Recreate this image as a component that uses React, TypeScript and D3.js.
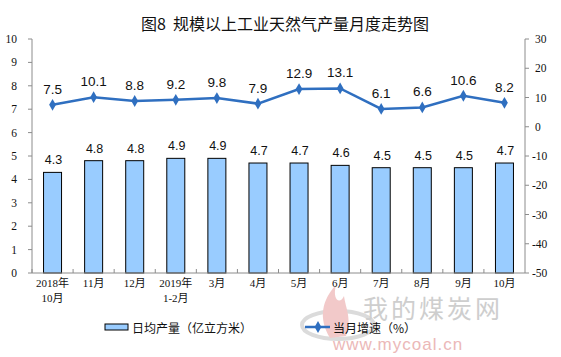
import React from "react";
import * as d3 from "d3";

const categories = ["2018年\n10月", "11月", "12月", "2019年\n1-2月", "3月", "4月", "5月", "6月", "7月", "8月", "9月", "10月"];
const dailyOutput = [4.3, 4.8, 4.8, 4.9, 4.9, 4.7, 4.7, 4.6, 4.5, 4.5, 4.5, 4.7];
const growth = [7.5, 10.1, 8.8, 9.2, 9.8, 7.9, 12.9, 13.1, 6.1, 6.6, 10.6, 8.2];
const leftTicks = [0, 1, 2, 3, 4, 5, 6, 7, 8, 9, 10];
const rightTicks = [-50, -40, -30, -20, -10, 0, 10, 20, 30];
const title = "图8\u00a0\u00a0规模以上工业天然气产量月度走势图";
const legendBar = "日均产量（亿立方米）";
const legendLine = "当月增速（%）";

const W = 561, H = 357;
const L = 32, R = 525, T = 39, B = 273;

export default function App() {
  const band = d3.scaleBand<string>().domain(categories.map((_, i) => String(i))).range([L, R]);
  const yL = d3.scaleLinear().domain([0, 10]).range([B, T]);
  const yR = d3.scaleLinear().domain([-50, 30]).range([B, T]);
  const cx = (i: number) => (band(String(i)) as number) + band.bandwidth() / 2;
  const line = d3.line<number>().x((_, i) => cx(i)).y((d) => yR(d));
  const bw = 18;
  const axisColor = "#8c8c8c";
  const serif = "'Liberation Serif', 'Times New Roman', serif";
  const sans = "'Liberation Sans', Arial, sans-serif";
  const cjk = "'Liberation Serif', 'Noto Sans CJK SC', serif";
  const diamond = d3.symbol().type(d3.symbolDiamond).size(40)();

  return (
    <svg width={W} height={H} style={{ position: "absolute", left: 0, top: 0, background: "#fff" }}>
      <text x={285} y={30} textAnchor="middle" fontSize={16} fontFamily="'Noto Sans CJK SC', sans-serif" fill="#111">{title}</text>

      {/* watermark */}
      <g opacity={0.9}>
        <ellipse cx={338} cy={325} rx={36} ry={14} fill="none" stroke="#d8d8d8" strokeWidth={4} />
        <path d="M330,338 C318,318 322,300 336,285 C332,300 340,305 344,296 C346,310 352,318 346,336 Z" fill="#f1c4c4" />
        <text x={363} y={318} fontSize={25} fill="#c9c9c9" fontFamily="'Noto Sans CJK SC', sans-serif" letterSpacing={3}>我的煤炭网</text>
        <text x={333} y={350} fontSize={17} fill="#eab1b1" fontFamily={sans} letterSpacing={1}>www.mycoal.cn</text>
      </g>

      {/* bars */}
      {dailyOutput.map((v, i) => (
        <g key={"b" + i}>
          <rect x={cx(i) - bw / 2} y={yL(v)} width={bw} height={B - yL(v)} fill="#99CCFF" stroke="#000" strokeWidth={1} />
          <text x={cx(i) + 1} y={yL(v) - 8} textAnchor="middle" fontSize={12.5} fontFamily={sans} fill="#111">{v.toFixed(1)}</text>
        </g>
      ))}

      {/* axes */}
      <line x1={L} x2={L} y1={T} y2={B} stroke={axisColor} />
      <line x1={R} x2={R} y1={T} y2={B} stroke={axisColor} />
      <line x1={L} x2={R} y1={B} y2={B} stroke={axisColor} />
      {leftTicks.map((t) => (
        <g key={"l" + t}>
          <line x1={L - 4} x2={L} y1={yL(t)} y2={yL(t)} stroke={axisColor} />
          <text x={17} y={yL(t) + 4} textAnchor="end" fontSize={11.5} fontFamily={serif} fill="#111">{t}</text>
        </g>
      ))}
      {rightTicks.map((t) => (
        <g key={"r" + t}>
          <line x1={R} x2={R + 4} y1={yR(t)} y2={yR(t)} stroke={axisColor} />
          <text x={t < 0 ? 532 : 535} y={yR(t) + 4} textAnchor="start" fontSize={11.5} fontFamily={serif} fill="#111">{t}</text>
        </g>
      ))}
      {categories.map((_, i) => (
        <line key={"t" + i} x1={band(String(i)) as number} x2={band(String(i)) as number} y1={B} y2={B - 4} stroke={axisColor} />
      ))}
      {categories.map((c, i) => (
        <text key={"c" + i} x={cx(i)} y={287} textAnchor="middle" fontSize={11} fontFamily={cjk} fill="#111">
          {c.split("\n").map((s, j) => (
            <tspan key={j} x={cx(i)} dy={j === 0 ? 0 : 15}>{s}</tspan>
          ))}
        </text>
      ))}

      {/* line */}
      <path d={line(growth) as string} fill="none" stroke="#2F6FC0" strokeWidth={2.5} />
      {growth.map((v, i) => (
        <g key={"p" + i}>
          <path d={diamond as string} transform={`translate(${cx(i)},${yR(v)})`} fill="#2F6FC0" />
          <text x={cx(i)} y={yR(v) - 11} textAnchor="middle" fontSize={13.5} fontFamily={sans} fill="#111">{v.toFixed(1)}</text>
        </g>
      ))}

      {/* legend */}
      <rect x={105} y={324} width={23} height={6} fill="#99CCFF" stroke="#000" strokeWidth={1} />
      <text x={132} y={333} fontSize={12} fontFamily="'Noto Sans CJK SC', sans-serif" fill="#111">{legendBar}</text>
      <line x1={305} x2={330} y1={327} y2={327} stroke="#2F6FC0" strokeWidth={2.5} />
      <path d={diamond as string} transform="translate(318,327)" fill="#2F6FC0" />
      <text x={333} y={333} fontSize={12} fontFamily="'Noto Sans CJK SC', sans-serif" fill="#111">{legendLine}</text>
    </svg>
  );
}
